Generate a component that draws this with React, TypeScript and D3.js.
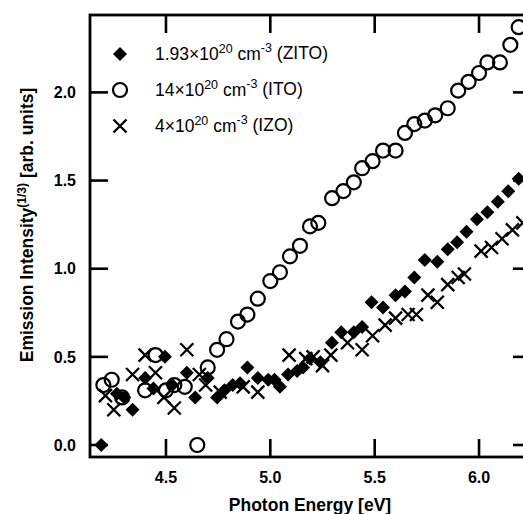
import React from "react"
import * as d3 from "d3"

// ZITO, 1.93e20 cm^-3 (filled diamonds)
const zitoE = [4.19, 4.265, 4.3, 4.34, 4.4, 4.44, 4.495, 4.53, 4.6, 4.64, 4.7, 4.745, 4.78, 4.82, 4.855, 4.89, 4.94, 4.99, 5.02, 5.046, 5.085, 5.128, 5.157, 5.19, 5.24, 5.295, 5.34, 5.4, 5.44, 5.485, 5.54, 5.6, 5.645, 5.69, 5.74, 5.8, 5.85, 5.895, 5.94, 5.99, 6.04, 6.09, 6.14, 6.19]
const zitoI = [0.0, 0.29, 0.27, 0.2, 0.38, 0.32, 0.5, 0.34, 0.41, 0.27, 0.38, 0.27, 0.31, 0.34, 0.35, 0.44, 0.38, 0.37, 0.37, 0.33, 0.4, 0.42, 0.44, 0.49, 0.47, 0.58, 0.64, 0.64, 0.67, 0.81, 0.78, 0.85, 0.87, 0.95, 1.05, 1.04, 1.11, 1.15, 1.21, 1.28, 1.32, 1.38, 1.44, 1.51]

// ITO, 14e20 cm^-3 (open circles)
const itoE = [4.2, 4.24, 4.29, 4.4, 4.45, 4.5, 4.54, 4.59, 4.65, 4.7, 4.745, 4.79, 4.845, 4.89, 4.94, 5.0, 5.046, 5.094, 5.142, 5.19, 5.23, 5.296, 5.35, 5.4, 5.44, 5.49, 5.54, 5.6, 5.645, 5.69, 5.74, 5.79, 5.85, 5.9, 5.95, 6.0, 6.04, 6.1, 6.15, 6.19]
const itoI = [0.34, 0.37, 0.27, 0.31, 0.51, 0.31, 0.34, 0.33, 0.0, 0.44, 0.54, 0.6, 0.7, 0.74, 0.83, 0.93, 0.98, 1.07, 1.13, 1.24, 1.26, 1.4, 1.44, 1.49, 1.57, 1.61, 1.67, 1.67, 1.77, 1.82, 1.84, 1.87, 1.91, 2.01, 2.06, 2.11, 2.17, 2.17, 2.27, 2.37]

// IZO, 4e20 cm^-3 (crosses)
const izoE = [4.21, 4.25, 4.34, 4.4, 4.45, 4.49, 4.54, 4.6, 4.66, 4.69, 4.76, 4.87, 4.94, 5.09, 5.17, 5.205, 5.25, 5.29, 5.37, 5.44, 5.49, 5.55, 5.6, 5.66, 5.7, 5.755, 5.8, 5.85, 5.9, 5.93, 6.01, 6.06, 6.11, 6.16, 6.21]
const izoI = [0.28, 0.2, 0.4, 0.51, 0.41, 0.27, 0.21, 0.54, 0.4, 0.34, 0.3, 0.33, 0.3, 0.51, 0.49, 0.5, 0.45, 0.51, 0.58, 0.54, 0.62, 0.68, 0.72, 0.74, 0.74, 0.85, 0.81, 0.91, 0.95, 0.97, 1.1, 1.12, 1.17, 1.22, 1.26]

const xTicks = [4.5, 5.0, 5.5, 6.0]
const yTicks = [0.0, 0.5, 1.0, 1.5, 2.0]

const legendLabels = [
  { kind: "diamond", base: "1.93×10", sup1: "20", mid: " cm", sup2: "-3", tail: " (ZITO)" },
  { kind: "circle", base: "14×10", sup1: "20", mid: " cm", sup2: "-3", tail: " (ITO)" },
  { kind: "cross", base: "4×10", sup1: "20", mid: " cm", sup2: "-3", tail: " (IZO)" },
]

const W = 523
const H = 514
const left = 90
const right = 531
const top = 15
const bottom = 457
const tickLen = 18
const font = "'Liberation Sans', Arial, Helvetica, sans-serif"

function Marker({ kind, x, y }: { kind: string; x: number; y: number }) {
  if (kind === "diamond") {
    const s = 7
    return <path d={`M${x},${y - s}L${x + s},${y}L${x},${y + s}L${x - s},${y}Z`} fill="#000" />
  }
  if (kind === "circle") {
    return <circle cx={x} cy={y} r={7} fill="none" stroke="#000" strokeWidth={2.2} />
  }
  const s = 6.5
  return (
    <path
      d={`M${x - s},${y - s}L${x + s},${y + s}M${x - s},${y + s}L${x + s},${y - s}`}
      stroke="#000"
      strokeWidth={2.3}
      fill="none"
    />
  )
}

export default function App() {
  const x = d3.scaleLinear().domain([4.136, 6.249]).range([left, right])
  const y = d3.scaleLinear().domain([0, 1]).range([445, 268.7])

  const series = [
    { kind: "circle", e: itoE, v: itoI },
    { kind: "diamond", e: zitoE, v: zitoI },
    { kind: "cross", e: izoE, v: izoI },
  ]

  return (
    <svg
      width={W}
      height={H}
      style={{ position: "absolute", left: 0, top: 0, background: "#fff" }}
      fontFamily={font}
    >
      <defs>
        <clipPath id="plot">
          <rect x={left} y={top} width={right - left} height={bottom - top} />
        </clipPath>
      </defs>

      {/* frame */}
      <rect x={left} y={top} width={right - left} height={bottom - top} fill="none" stroke="#000" strokeWidth={2.8} />

      {xTicks.map((t) => (
        <g key={"x" + t}>
          <line x1={x(t)} x2={x(t)} y1={bottom} y2={bottom - tickLen} stroke="#000" strokeWidth={2.6} />
          <line x1={x(t)} x2={x(t)} y1={top} y2={top + tickLen} stroke="#000" strokeWidth={2.6} />
          <text x={x(t)} y={483} textAnchor="middle" fontWeight="bold" fontSize={16}>
            {d3.format(".1f")(t)}
          </text>
        </g>
      ))}
      {yTicks.map((t) => (
        <g key={"y" + t}>
          <line x1={left} x2={left + tickLen} y1={y(t)} y2={y(t)} stroke="#000" strokeWidth={2.6} />
          <line x1={right} x2={right - tickLen} y1={y(t)} y2={y(t)} stroke="#000" strokeWidth={2.6} />
          <text x={76} y={y(t)} dy="0.36em" textAnchor="end" fontWeight="bold" fontSize={16}>
            {d3.format(".1f")(t)}
          </text>
        </g>
      ))}

      <g clipPath="url(#plot)">
        {series.map((s) =>
          s.e.map((e, i) => <Marker key={s.kind + i} kind={s.kind} x={x(e)} y={y(s.v[i])} />)
        )}
      </g>

      {/* legend */}
      {legendLabels.map((l, i) => {
        const ly = 54 + i * 36
        return (
          <g key={l.kind}>
            <Marker kind={l.kind} x={120} y={ly} />
            <text x={155} y={ly} dy="0.36em" fontSize={17.5}>
              {l.base}
              <tspan fontSize={12.5} dy="-0.6em">{l.sup1}</tspan>
              <tspan dy="0.4em">{l.mid}</tspan>
              <tspan fontSize={12.5} dy="-0.6em">{l.sup2}</tspan>
              <tspan dy="0.4em">{l.tail}</tspan>
            </text>
          </g>
        )
      })}

      {/* axis titles */}
      <text x={310} y={511} textAnchor="middle" fontWeight="bold" fontSize={17.5}>
        Photon Energy [eV]
      </text>
      <text
        transform={`translate(33,${225}) rotate(-90)`}
        textAnchor="middle"
        fontWeight="bold"
        fontSize={17.5}
      >
        Emission Intensity
        <tspan fontSize={12} dy="-0.55em">(1/3)</tspan>
        <tspan dy="0.38em"> [arb. units]</tspan>
      </text>
    </svg>
  )
}
